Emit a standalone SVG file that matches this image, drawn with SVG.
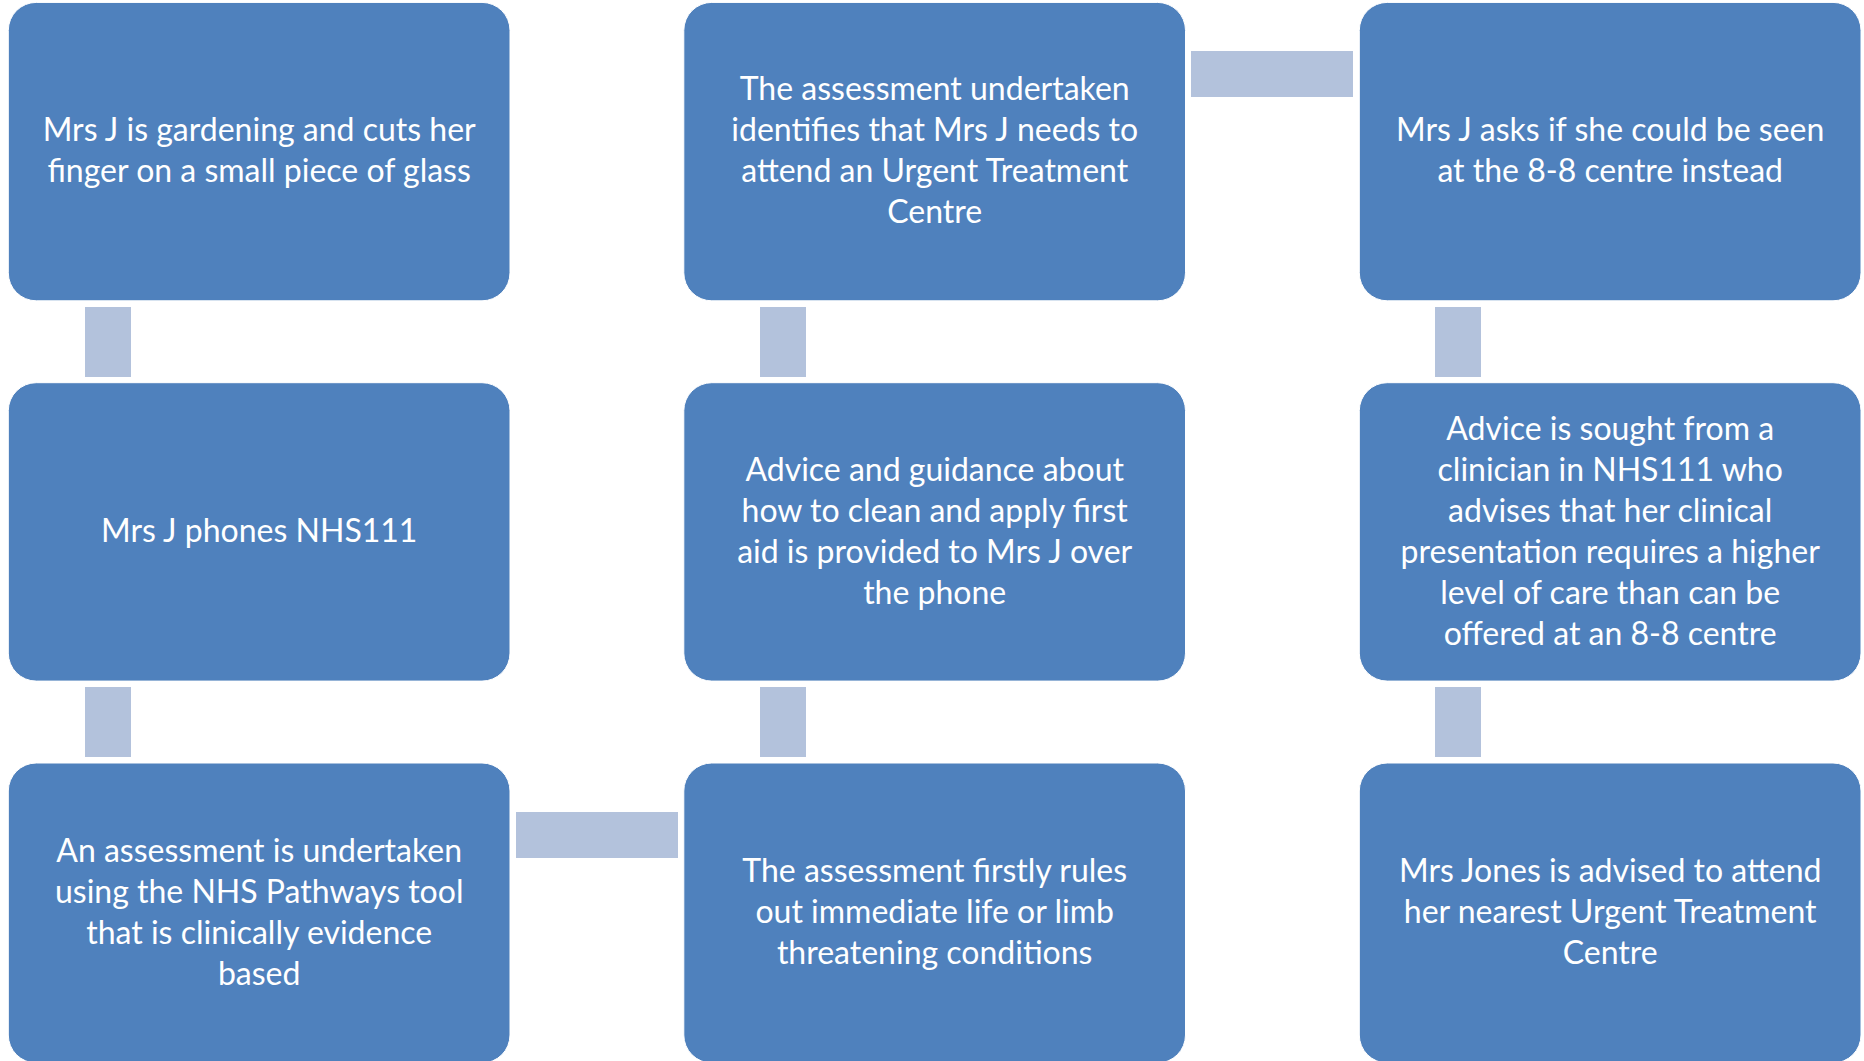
<svg xmlns="http://www.w3.org/2000/svg" width="1864" height="1061" viewBox="0 0 1864 1061">
<style>
.box{fill:#4F81BD;stroke:#FFFFFF;stroke-width:1}
.con{fill:#B3C2DC}
text{font-family:Lato,"Open Sans",sans-serif;font-size:32px;fill:#FFFFFF;text-anchor:middle}
</style>
<rect width="1864" height="1061" fill="#FFFFFF"/>
<g id="connectors">
<rect class="con" x="85" y="307" width="46" height="70"/>
<rect class="con" x="85" y="687" width="46" height="70"/>
<rect class="con" x="516" y="812" width="162" height="46"/>
<rect class="con" x="760" y="687" width="46" height="70"/>
<rect class="con" x="760" y="307" width="46" height="70"/>
<rect class="con" x="1191" y="51" width="162" height="46"/>
<rect class="con" x="1435" y="307" width="46" height="70"/>
<rect class="con" x="1435" y="687" width="46" height="70"/>
</g>
<g id="n1">
<rect class="box" x="8.3" y="2.4" width="501.7" height="298.4" rx="28"/>
<text x="259.2"><tspan x="259.2" y="141">Mrs J is gardening and cuts her</tspan><tspan x="259.2" y="182">finger on a small piece of glass</tspan></text>
</g>
<g id="n2">
<rect class="box" x="8.3" y="382.7" width="501.7" height="298.4" rx="28"/>
<text x="259.2" y="542">Mrs J phones NHS111</text>
</g>
<g id="n3">
<rect class="box" x="8.3" y="763" width="501.7" height="300" rx="28"/>
<text x="259.2"><tspan x="259.2" y="862">An assessment is undertaken</tspan><tspan x="259.2" y="903">using the NHS Pathways tool</tspan><tspan x="259.2" y="944">that is clinically evidence</tspan><tspan x="259.2" y="985">based</tspan></text>
</g>
<g id="n4">
<rect class="box" x="683.8" y="763" width="501.7" height="300" rx="28"/>
<text x="934.7"><tspan x="934.7" y="882">The assessment firstly rules</tspan><tspan x="934.7" y="923">out immediate life or limb</tspan><tspan x="934.7" y="964">threatening conditions</tspan></text>
</g>
<g id="n5">
<rect class="box" x="683.8" y="382.7" width="501.7" height="298.4" rx="28"/>
<text x="934.7"><tspan x="934.7" y="481">Advice and guidance about</tspan><tspan x="934.7" y="522">how to clean and apply first</tspan><tspan x="934.7" y="563">aid is provided to Mrs J over</tspan><tspan x="934.7" y="604">the phone</tspan></text>
</g>
<g id="n6">
<rect class="box" x="683.8" y="2.4" width="501.7" height="298.4" rx="28"/>
<text x="934.7"><tspan x="934.7" y="100">The assessment undertaken</tspan><tspan x="934.7" y="141">identifies that Mrs J needs to</tspan><tspan x="934.7" y="182">attend an Urgent Treatment</tspan><tspan x="934.7" y="223">Centre</tspan></text>
</g>
<g id="n7">
<rect class="box" x="1359.3" y="2.4" width="501.7" height="298.4" rx="28"/>
<text x="1610.2"><tspan x="1610.2" y="141">Mrs J asks if she could be seen</tspan><tspan x="1610.2" y="182">at the 8-8 centre instead</tspan></text>
</g>
<g id="n8">
<rect class="box" x="1359.3" y="382.7" width="501.7" height="298.4" rx="28"/>
<text x="1610.2"><tspan x="1610.2" y="440">Advice is sought from a</tspan><tspan x="1610.2" y="481">clinician in NHS111 who</tspan><tspan x="1610.2" y="522">advises that her clinical</tspan><tspan x="1610.2" y="563">presentation requires a higher</tspan><tspan x="1610.2" y="604">level of care than can be</tspan><tspan x="1610.2" y="645">offered at an 8-8 centre</tspan></text>
</g>
<g id="n9">
<rect class="box" x="1359.3" y="763" width="501.7" height="300" rx="28"/>
<text x="1610.2"><tspan x="1610.2" y="882">Mrs Jones is advised to attend</tspan><tspan x="1610.2" y="923">her nearest Urgent Treatment</tspan><tspan x="1610.2" y="964">Centre</tspan></text>
</g>
</svg>
